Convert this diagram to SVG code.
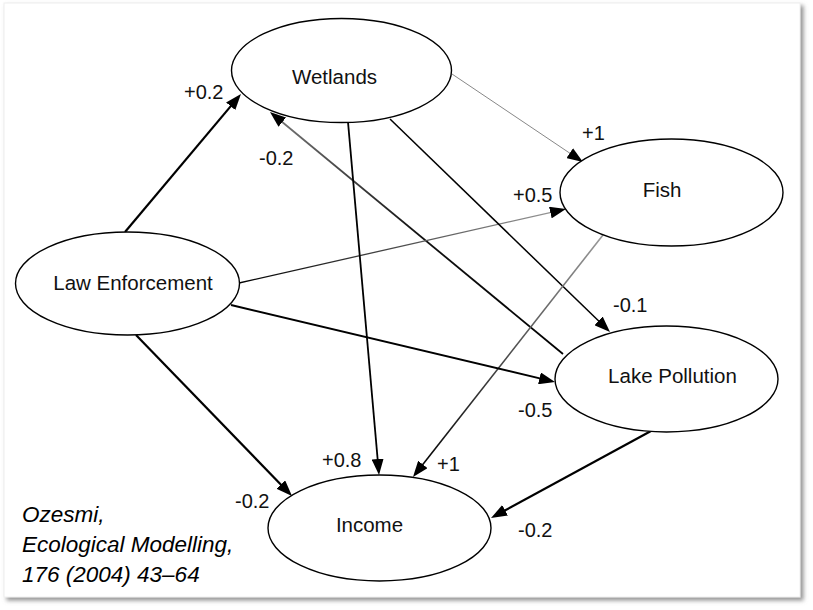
<svg xmlns="http://www.w3.org/2000/svg" width="813" height="610" viewBox="0 0 813 610">
<style>
.node{fill:#fff;stroke:#000;stroke-width:1.4}
.nl{font-family:"Liberation Sans",Arial,sans-serif;font-size:20.5px;fill:#111;text-anchor:middle}
.el{font-family:"Liberation Sans",Arial,sans-serif;font-size:20px;fill:#111}
.cite{font-family:"Liberation Sans",Arial,sans-serif;font-size:22.5px;font-style:italic;fill:#000}
.e{fill:none;marker-end:url(#ah)}
</style>
<defs>
<marker id="ah" markerUnits="userSpaceOnUse" markerWidth="16" markerHeight="12" viewBox="0 0 16 12" refX="10" refY="6" orient="auto">
<path d="M0,0 L16,6 L0,12 z" fill="#000"/>
</marker>
<filter id="sh" x="-5%" y="-5%" width="110%" height="110%">
<feDropShadow dx="3" dy="3" stdDeviation="2" flood-color="#777" flood-opacity="0.8"/>
</filter>
<linearGradient id="g2" gradientUnits="userSpaceOnUse" x1="563" y1="354" x2="274.6" y2="115.8">
<stop offset="0" stop-color="#000"/><stop offset="0.5" stop-color="#111"/><stop offset="1" stop-color="#777"/>
</linearGradient>
<linearGradient id="g4" gradientUnits="userSpaceOnUse" x1="239" y1="283" x2="560.1" y2="210.3">
<stop offset="0" stop-color="#000"/><stop offset="1" stop-color="#999"/>
</linearGradient>
<linearGradient id="g7" gradientUnits="userSpaceOnUse" x1="603" y1="235" x2="416.7" y2="472.3">
<stop offset="0" stop-color="#999"/><stop offset="1" stop-color="#000"/>
</linearGradient>
</defs>
<rect x="0" y="0" width="813" height="610" fill="#fff"/>
<rect x="4" y="3" width="796" height="594" fill="#fff" stroke="#eee" stroke-width="1" filter="url(#sh)"/>

<g id="connectors">
<line class="e" x1="125" y1="232" x2="237.1" y2="98.6" stroke="#000" stroke-width="2.2"/>
<line class="e" x1="563" y1="354" x2="274.6" y2="115.8" stroke="url(#g2)" stroke-width="1.8"/>
<line class="e" x1="452" y1="74" x2="578" y2="158.7" stroke="#888" stroke-width="1"/>
<line class="e" x1="239" y1="283" x2="560.1" y2="210.3" stroke="url(#g4)" stroke-width="1.3"/>
<line class="e" x1="390" y1="119" x2="605.7" y2="327.8" stroke="#000" stroke-width="1.5"/>
<line class="e" x1="348" y1="122" x2="378.5" y2="469" stroke="#000" stroke-width="1.8"/>
<line class="e" x1="603" y1="235" x2="416.7" y2="472.3" stroke="url(#g7)" stroke-width="1.6"/>
<line class="e" x1="231" y1="305" x2="549.2" y2="380.6" stroke="#000" stroke-width="2"/>
<line class="e" x1="136" y1="335" x2="287.8" y2="491.7" stroke="#000" stroke-width="2.2"/>
<line class="e" x1="651" y1="431" x2="496.3" y2="515.1" stroke="#000" stroke-width="2.2"/>
<text class="el" x="184" y="99">+0.2</text>
<text class="el" x="259" y="165">-0.2</text>
<text class="el" x="582" y="140">+1</text>
<text class="el" x="513" y="202">+0.5</text>
<text class="el" x="613" y="312">-0.1</text>
<text class="el" x="322" y="467">+0.8</text>
<text class="el" x="437" y="471">+1</text>
<text class="el" x="518" y="417">-0.5</text>
<text class="el" x="235" y="508">-0.2</text>
<text class="el" x="518" y="537">-0.2</text>
</g>

<g id="wetlands">
<ellipse class="node" cx="341.5" cy="70.5" rx="110" ry="52"/>
<text class="nl" x="334.5" y="84">Wetlands</text>
</g>
<g id="law-enforcement">
<ellipse class="node" cx="127.5" cy="283.5" rx="112" ry="51.5"/>
<text class="nl" x="133" y="290">Law Enforcement</text>
</g>
<g id="fish">
<ellipse class="node" cx="671.5" cy="192.5" rx="111.5" ry="53.5"/>
<text class="nl" x="662" y="197">Fish</text>
</g>
<g id="lake-pollution">
<ellipse class="node" cx="666.5" cy="379" rx="111.5" ry="53"/>
<text class="nl" x="672.5" y="383">Lake Pollution</text>
</g>
<g id="income">
<ellipse class="node" cx="379.5" cy="528" rx="111.5" ry="53"/>
<text class="nl" x="369.5" y="532">Income</text>
</g>

<g id="citation">
<text class="cite" x="22" y="522">Ozesmi,</text>
<text class="cite" x="22" y="552">Ecological Modelling,</text>
<text class="cite" x="22" y="582">176 (2004) 43–64</text>
</g>
</svg>
